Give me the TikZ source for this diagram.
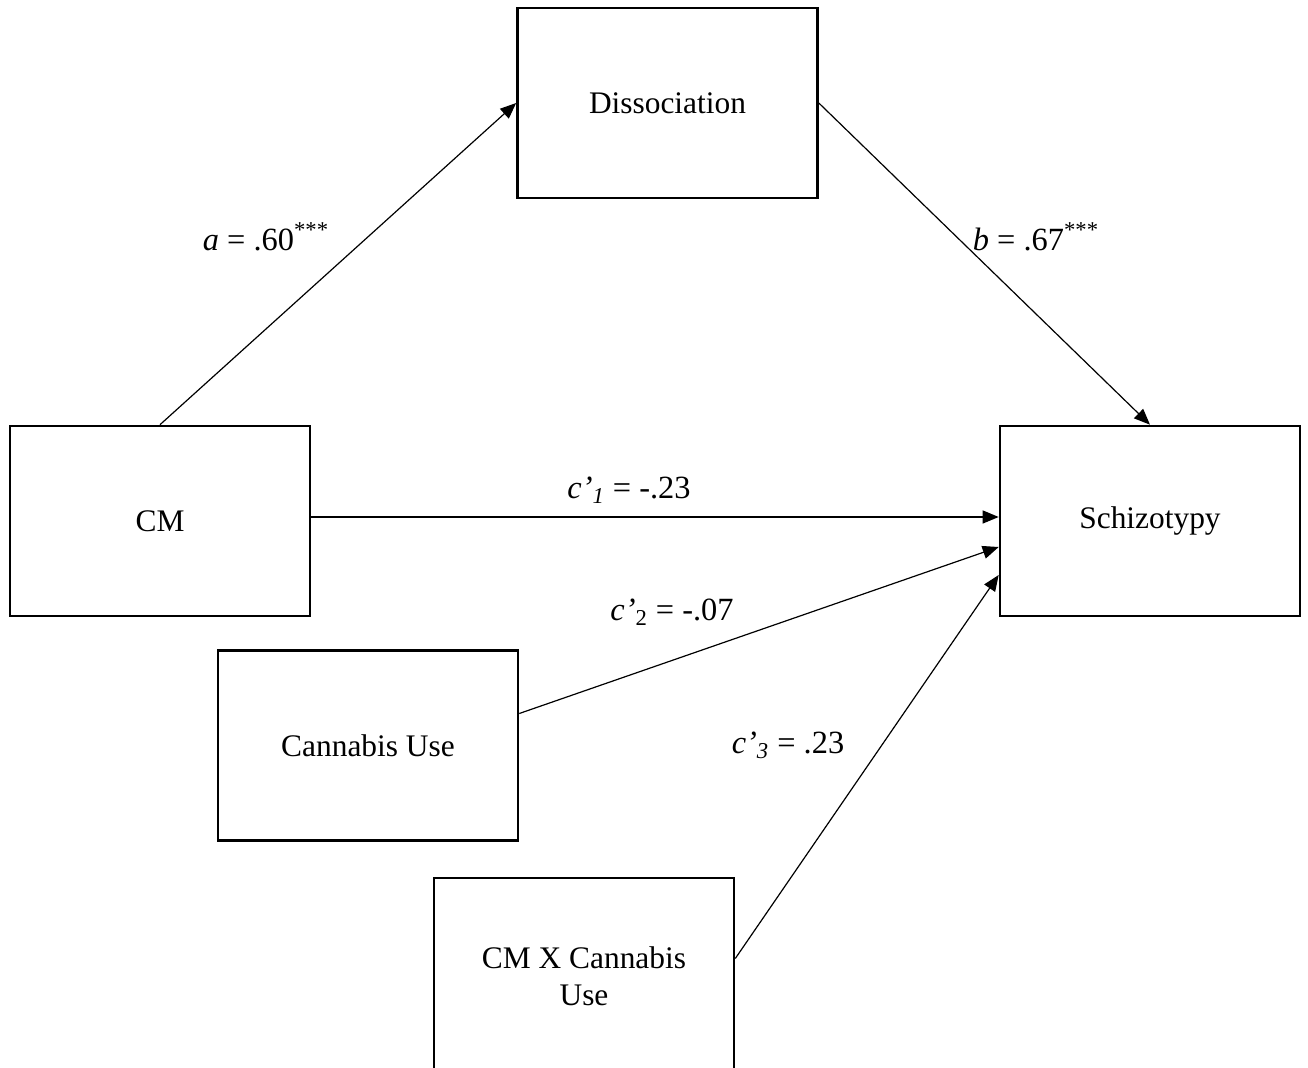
\documentclass[tikz,border=0pt]{standalone}
\usepackage{fontspec}
\setmainfont{Liberation Serif}
\usetikzlibrary{arrows.meta,positioning}

\begin{document}
\begin{tikzpicture}[
    x=0.5pt, y=-0.5pt,
    varnode/.style={rectangle, draw, line width=1.3pt, minimum width=150pt,
                    minimum height=95pt, align=center,
                    font=\fontsize{15.7}{18.5}\selectfont},
    coef/.style={font=\fontsize{16.2}{19}\selectfont},
    arrow/.style={-{Triangle[length=8pt,width=6.5pt]}, line width=0.6pt}
]
\useasboundingbox (0,0) rectangle (1308,1068);

%% ---- Variablen ----
\node[varnode] (diss)   at (667.5,103)  {Dissociation};
\node[varnode] (cm)     at (160,521)    {CM};
\node[varnode] (schizo) at (1150,521)   {Schizotypy};
\node[varnode] (cann)   at (368,745.5)  {Cannabis Use};
\node[varnode, minimum height=98.5pt] (inter) at (584,976.5) {CM X Cannabis\\Use};

%% ---- Pfade ----
\draw[arrow] (cm.north)--(diss.west);
\draw[arrow] (diss.east)--(schizo.north);
\draw[arrow] ([yshift=2pt]cm.east)--([yshift=2pt]schizo.west);
\draw[arrow] ([yshift=16pt]cann.east)--([yshift=-13pt]schizo.west);
\draw[arrow] ([yshift=9pt]inter.east)--([yshift=-27pt]schizo.west);

%% ---- Koeffizienten ----
\node[coef] (la)  at (266,237) {\textit{a} = .60\textsuperscript{***}};
\node[coef] (lb)  at (1036,237) {\textit{b} = .67\textsuperscript{***}};
\node[coef] (lc1) at (629,490) {\textit{c’\textsubscript{1}} = -.23};
\node[coef] (lc2) at (672,612) {\textit{c’}\textsubscript{2} = -.07};
\node[coef] (lc3) at (788,745) {\textit{c’\textsubscript{3}} = .23};

\end{tikzpicture}
\end{document}
